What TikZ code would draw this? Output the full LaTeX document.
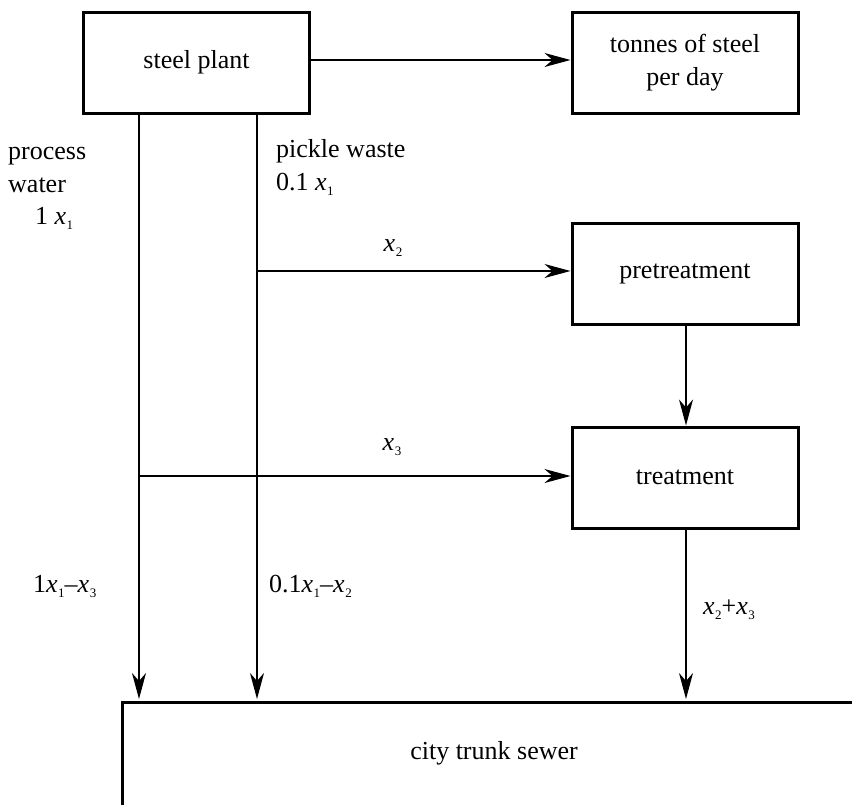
\documentclass[tikz,border=0pt]{standalone}
\usepackage{fontspec}
\setmainfont{Liberation Serif}
\usetikzlibrary{arrows.meta}
% variable x with a small lowered index
\newcommand\xsub[1]{\textit{x}\kern0.5pt\raisebox{-5pt}{\fontsize{13}{13}\selectfont #1}}
\begin{document}
\begin{tikzpicture}[x=1pt,y=-1pt,
  font=\fontsize{26}{33}\selectfont,
  unitbox/.style={draw, line width=3pt, minimum width=226pt, minimum height=101pt,
                  inner sep=0pt, align=center},
  flow/.style={line width=1.3pt, -{Stealth[length=26pt,width=14pt,inset=8pt]}},
  lbl/.style={inner sep=0pt, anchor=west, align=left}]
\useasboundingbox (0,0) rectangle (852,804);

% units of the plant
\node[unitbox] (sp) at (196.5,62.5) {steel plant};
\node[unitbox] (ton) at (685,62.5) {tonnes of steel\\per day};
\node[unitbox] (pre) at (685,274) {pretreatment};
\node[unitbox] (treat) at (685,477.5) {treatment};

% city trunk sewer, open at the right and bottom
\draw[line width=3pt] (122,806) -- (122,702) -- (854,702);
\node (sewer) at (494,753) {city trunk sewer};

% junctions and outlets
\coordinate (pw) at (139,113);
\coordinate (pk) at (257,113);
\coordinate (j2) at (257,271);
\coordinate (j3) at (139,476);
\coordinate (s1) at (139,699);
\coordinate (s2) at (257,699);
\coordinate (s3) at (686,699);

% flows
\draw[flow] (sp.east |- 0,60) -- (ton.west |- 0,60);
\draw[flow] (pw) -- (s1);
\draw[flow] (pk) -- (s2);
\draw[flow] (j2) -- (j2 -| pre.west);
\draw[flow] (j3) -- (j3 -| treat.west);
\draw[flow] (pre.south -| s3) -- (treat.north -| s3);
\draw[flow] (treat.south -| s3) -- (s3);

% flow labels
\node[lbl] (lpw) at (8,188) {process\\water\\[-1pt]\hspace*{27pt}1 \xsub{1}};
\node[lbl, anchor=north west] (lpk) at (276,139) {pickle waste\\0.1 \xsub{1}};
\node (lx2) at (393,248) {\xsub{2}};
\node (lx3) at (392,447) {\xsub{3}};
\node[lbl] (lo1) at (33,586) {1\xsub{1}--\xsub{3}};
\node[lbl] (lo2) at (269,586) {0.1\xsub{1}--\xsub{2}};
\node[lbl] (lo3) at (703,610) {\xsub{2}+\xsub{3}};
\end{tikzpicture}
\end{document}
